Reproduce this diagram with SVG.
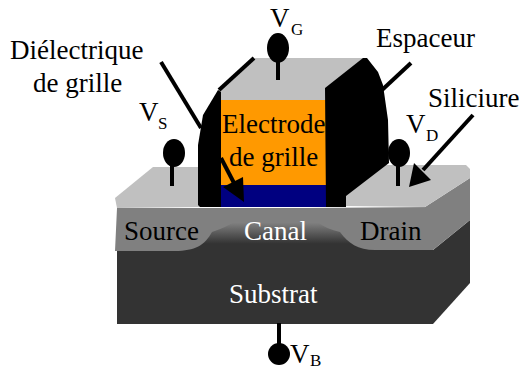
<svg xmlns="http://www.w3.org/2000/svg" width="521" height="370" viewBox="0 0 521 370">
<style>
text{font-family:"Liberation Serif","Times New Roman",serif;font-size:27px;fill:#000}
.w{fill:#fff}
.sub{font-size:17px}
.sil{fill:#c0c0c0}
.k{fill:#000}
.ln{stroke:#000;stroke-width:4;fill:none}
</style>
<defs>
<linearGradient id="canal" x1="0" y1="0" x2="0" y2="1"><stop offset="0" stop-color="#808080"/><stop offset="0.35" stop-color="#808080"/><stop offset="0.85" stop-color="#333"/><stop offset="1" stop-color="#333"/></linearGradient>
</defs>
<g id="substrat">
<polygon points="433,250 470,220 470,283 433,324" fill="#333"/>
<polygon points="425,207 470,178 470,220 433,250" fill="#808080"/>
<rect x="117" y="208" width="316" height="42" fill="url(#canal)"/>
<rect x="117" y="250" width="316" height="74" fill="#333"/>
<text class="w" x="229" y="303">Substrat</text>
</g>
<g id="source">
<path d="M117,208H244C240,220 232,225 212,232C205,245 195,251 175,251H115Z" fill="#808080"/>
<text x="124" y="240">Source</text>
</g>
<g id="drain">
<path d="M308,208C312,220 322,228 340,232C348,243 358,250 375,250H433V207Z" fill="#808080"/>
<text x="360" y="240">Drain</text>
</g>
<g id="canal-label"><text class="w" x="244" y="240">Canal</text></g>
<g id="siliciure-source"><polygon class="sil" points="115,198 153,167 200,167 200,207 117,208"/></g>
<g id="siliciure-drain"><polygon class="sil" points="346,195 380,165 466,165 470,169 470,178 425,207 346,206"/></g>
<g id="grille">
<polygon class="sil" points="218,90 255,58 364,58 326,88 326,100 221,100"/>
<rect x="221" y="100" width="105" height="85" fill="#f90"/>
<rect x="221" y="185" width="105" height="22" fill="#000080"/>
<text x="222" y="133">Electrode</text>
<text x="229" y="166">de grille</text>
</g>
<g id="espaceurs">
<path class="k" d="M218,90L221,92V207H200L198,205V145L203,115Z"/>
<path class="k" d="M325,88L363,58H367L378,72L383,85L388,120L389,163L346,196V207H326Z"/>
</g>
<g id="connecteurs">
<line class="ln" x1="278" y1="60" x2="278" y2="80"/>
<line class="ln" x1="172" y1="165" x2="172" y2="186"/>
<line class="ln" x1="398" y1="165" x2="398" y2="186"/>
<line class="ln" x1="279" y1="323" x2="279" y2="345"/>
<line class="ln" x1="161" y1="62" x2="201" y2="128"/>
<line class="ln" x1="254" y1="58" x2="219" y2="90"/>
<line class="ln" x1="411" y1="63" x2="382" y2="90"/>
<line class="ln" x1="221" y1="158" x2="234" y2="183"/>
<polygon class="k" points="223,187 243,177 244,202"/>
<line class="ln" x1="473" y1="115" x2="423" y2="170"/>
<polygon class="k" points="414,163 431,180 409,187"/>
</g>
<g id="VG"><ellipse class="k" cx="278" cy="48" rx="11" ry="15"/><text x="270" y="27">V</text><text class="sub" x="291" y="35">G</text></g>
<g id="VS"><ellipse class="k" cx="174" cy="153" rx="11" ry="14"/><text x="139" y="121">V</text><text class="sub" x="158" y="129">S</text></g>
<g id="VD"><ellipse class="k" cx="399" cy="153" rx="11" ry="14"/><text x="406" y="133">V</text><text class="sub" x="426" y="141">D</text></g>
<g id="VB"><circle class="k" cx="279" cy="354" r="11"/><text x="290" y="363">V</text><text class="sub" x="310" y="366">B</text></g>
<g id="labels">
<text x="10" y="59">Diélectrique</text>
<text x="33" y="92">de grille</text>
<text x="376" y="47">Espaceur</text>
<text x="428" y="107">Siliciure</text>
</g>
</svg>
